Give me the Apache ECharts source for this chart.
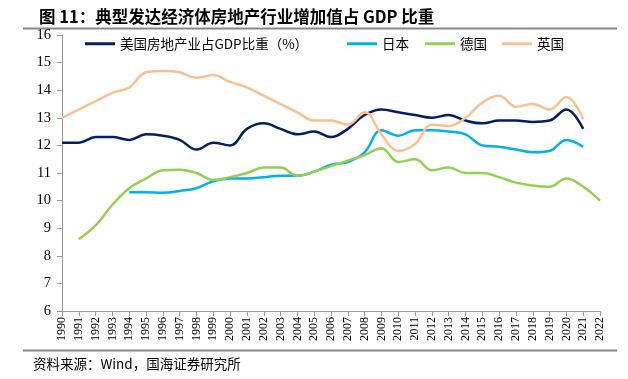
<!DOCTYPE html>
<html><head><meta charset="utf-8">
<script src="https://cdn.jsdelivr.net/npm/echarts@6/dist/echarts.min.js"></script>
<style>html,body{margin:0;padding:0;background:#fff}#c{width:628px;height:379px}</style>
</head><body><div id="c"></div>
<script>
const years = [];
for (let y = 1990; y <= 2022; y++) years.push(String(y));
const usData = [12.1,12.1,12.3,12.3,12.2,12.4,12.35,12.2,11.85,12.1,12.0,12.6,12.8,12.6,12.4,12.5,12.3,12.6,13.1,13.3,13.2,13.1,13.0,13.1,12.9,12.8,12.9,12.9,12.85,12.9,13.3,12.6,null];
const jpData = [null,null,null,null,10.3,10.3,10.28,10.35,10.45,10.7,10.8,10.8,10.85,10.9,10.9,11.05,11.3,11.4,11.75,12.55,12.35,12.55,12.55,12.5,12.4,12.0,11.95,11.85,11.75,11.8,12.2,11.95,null];
const deData = [null,8.6,9.1,9.85,10.45,10.8,11.1,11.12,11.0,10.75,10.85,11.0,11.2,11.2,10.9,11.05,11.25,11.45,11.65,11.9,11.4,11.5,11.1,11.2,11.0,11.0,10.85,10.65,10.55,10.5,10.8,10.5,10.0];
const ukData = [13.0,13.3,13.6,13.9,14.1,14.65,14.7,14.65,14.45,14.55,14.3,14.1,13.8,13.5,13.2,12.9,12.9,12.75,13.2,12.4,11.8,12.05,12.75,12.7,13.0,13.55,13.8,13.4,13.5,13.3,13.75,12.95,null];
const seriesNames = ['美国房地产业占GDP比重（%）','日本','德国','英国'];
const colors = ['#002060','#00B0F0','#92D050','#FAC090'];
const titleText = '图 11：典型发达经济体房地产行业增加值占 GDP 比重';
const sourceText = '资料来源：Wind，国海证券研究所';

const chart = echarts.init(document.getElementById('c'));
const datas = [usData, jpData, deData, ukData];
const legendLefts = [80, 342, 420, 497];
chart.setOption({
  animation: false,
  title: {
    text: titleText, left: 34, top: 3,
    textStyle: {fontSize: 16.5, fontWeight: 'bold', color: '#000', fontFamily: 'Noto Sans CJK SC'}
  },
  legend: seriesNames.map((n, i) => ({
    top: 32, left: legendLefts[i], itemWidth: 30, itemHeight: 3,
    icon: 'rect',
    textStyle: {fontSize: 13.5, color: '#000', fontFamily: 'Noto Sans CJK SC'},
    data: [n]
  })),
  grid: {left: 62, right: 28, top: 35, bottom: 68},
  xAxis: {
    type: 'category', data: years, boundaryGap: false,
    axisLine: {lineStyle: {color: '#999'}},
    axisTick: {show: true, alignWithLabel: true, lineStyle: {color: '#999'}, length: 5},
    axisLabel: {rotate: 90, interval: 0, fontSize: 12, color: '#000', fontFamily: 'Liberation Serif', margin: 6}
  },
  yAxis: {
    type: 'value', min: 6, max: 16, interval: 1,
    axisLine: {show: true, lineStyle: {color: '#999'}},
    axisTick: {show: true, lineStyle: {color: '#999'}, length: 5},
    splitLine: {show: false},
    axisLabel: {fontSize: 14.5, color: '#000', fontFamily: 'Liberation Serif', margin: 11}
  },
  series: seriesNames.map((n, i) => ({
    name: n, type: 'line', data: datas[i], smooth: 0.4, showSymbol: false, symbol: 'none',
    connectNulls: false,
    lineStyle: {color: colors[i], width: 2.5}, itemStyle: {color: colors[i]}
  })),
  graphic: [
    {type: 'line', shape: {x1: 23, y1: 28.5, x2: 617, y2: 28.5}, style: {stroke: '#888', lineWidth: 2}},
    {type: 'line', shape: {x1: 23, y1: 350.5, x2: 617, y2: 350.5}, style: {stroke: '#888', lineWidth: 2}},
    {type: 'text', left: 33, top: 357, style: {text: sourceText, fontSize: 13.5, fill: '#000', fontFamily: 'Noto Sans CJK SC'}}
  ]
});
</script></body></html>
